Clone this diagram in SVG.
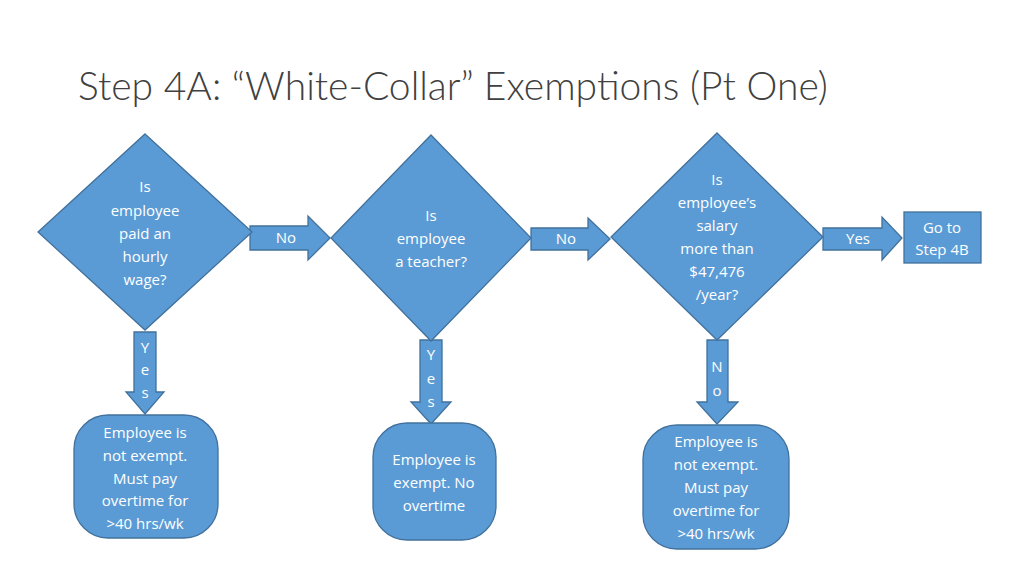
<svg xmlns="http://www.w3.org/2000/svg" width="1024" height="576" viewBox="0 0 1024 576">
<style>
.s{fill:#5B9BD5;stroke:#41719C;stroke-width:1.3}
.t{font-family:"Open Sans","Liberation Sans",sans-serif;font-size:15px;fill:#fff;text-anchor:middle}
</style>
<rect width="1024" height="576" fill="#fff"/>
<text x="78" y="100" font-family="Lato,'Open Sans','Liberation Sans',sans-serif" font-weight="300" font-size="39" fill="#404040">Step 4A: “White-Collar” Exemptions (Pt One)</text>
<g id="connectors">
<path class="s" d="M250,226H308V216L330,238L308,260V250H250Z"/>
<text class="t" x="286" y="243">No</text>
<path class="s" d="M531,228H588V218L610,239L588,260V250H531Z"/>
<text class="t" x="566" y="244">No</text>
<path class="s" d="M823,228H882V217L902,238L882,260V250H823Z"/>
<text class="t" x="858" y="244">Yes</text>
<path class="s" d="M134,332H156V392H164L145,414L126,392H134Z"/>
<text class="t" x="145" y="353">Y</text><text class="t" x="145" y="375">e</text><text class="t" x="145" y="398">s</text>
<path class="s" d="M420,340H442V402H451L431,424L411,402H420Z"/>
<text class="t" x="431" y="360">Y</text><text class="t" x="431" y="384">e</text><text class="t" x="431" y="407">s</text>
<path class="s" d="M707,340H728V402H738L717,424L697,402H707Z"/>
<text class="t" x="717" y="372">N</text><text class="t" x="717" y="396">o</text>
</g>
<g id="d1"><path class="s" d="M145,134L252,232L145,330L38,232Z"/>
<text class="t" x="145" y="192">Is</text><text class="t" x="145" y="216">employee</text><text class="t" x="145" y="239">paid an</text><text class="t" x="145" y="262">hourly</text><text class="t" x="145" y="285">wage?</text></g>
<g id="d2"><path class="s" d="M431,135L531,238L431,341L331,238Z"/>
<text class="t" x="431" y="221">Is</text><text class="t" x="431" y="244">employee</text><text class="t" x="431" y="267">a teacher?</text></g>
<g id="d3"><path class="s" d="M717,133L823,237L717,340L611,237Z"/>
<text class="t" x="717" y="185">Is</text><text class="t" x="717" y="208">employee’s</text><text class="t" x="717" y="231">salary</text><text class="t" x="717" y="254">more than</text><text class="t" x="717" y="277">$47,476</text><text class="t" x="717" y="300">/year?</text></g>
<g id="b4"><rect class="s" x="904" y="212" width="77" height="51"/>
<text class="t" x="942" y="233">Go to</text><text class="t" x="942" y="255">Step 4B</text></g>
<g id="e1"><rect class="s" x="74" y="415" width="144" height="123" rx="34"/>
<text class="t" x="145" y="438">Employee is</text><text class="t" x="145" y="461">not exempt.</text><text class="t" x="145" y="484">Must pay</text><text class="t" x="145" y="506">overtime for</text><text class="t" x="145" y="529">&gt;40 hrs/wk</text></g>
<g id="e2"><rect class="s" x="373" y="423" width="123" height="117" rx="34"/>
<text class="t" x="434" y="465">Employee is</text><text class="t" x="434" y="488">exempt.  No</text><text class="t" x="434" y="511">overtime</text></g>
<g id="e3"><rect class="s" x="643" y="425" width="146" height="124" rx="34"/>
<text class="t" x="716" y="447">Employee is</text><text class="t" x="716" y="470">not exempt.</text><text class="t" x="716" y="493">Must pay</text><text class="t" x="716" y="516">overtime for</text><text class="t" x="716" y="539">&gt;40 hrs/wk</text></g>
</svg>
